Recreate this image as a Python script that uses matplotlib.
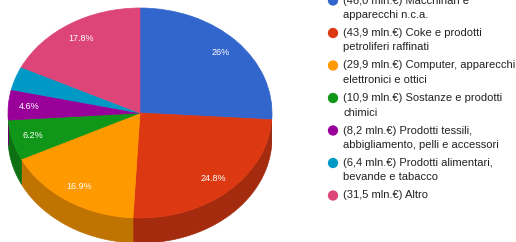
import numpy as np
import matplotlib.pyplot as plt
from matplotlib.patches import Polygon

plt.rcParams['font.family'] = ['Liberation Sans', 'DejaVu Sans']

# dati: export per settore (mln. €)
values = [46.0, 43.9, 29.9, 10.9, 8.2, 6.4, 31.5]
legend_labels = [
    "(46,0 mln.€) Macchinari e\napparecchi n.c.a.",
    "(43,9 mln.€) Coke e prodotti\npetroliferi raffinati",
    "(29,9 mln.€) Computer, apparecchi\nelettronici e ottici",
    "(10,9 mln.€) Sostanze e prodotti\nchimici",
    "(8,2 mln.€) Prodotti tessili,\nabbigliamento, pelli e accessori",
    "(6,4 mln.€) Prodotti alimentari,\nbevande e tabacco",
    "(31,5 mln.€) Altro",
]
colors = ['#3366cc', '#dc3912', '#ff9900', '#109618', '#990099', '#0099c6', '#dd4477']


def darker(c, f=0.75):
    c = c.lstrip('#')
    r, g, b = (int(c[i:i + 2], 16) / 255 for i in (0, 2, 4))
    return (r * f, g * f, b * f)


def fmt_pct(p):
    if p < 4:
        return ''
    s = f"{p:.1f}".rstrip('0').rstrip('.')
    return s + '%'


W, H = 516, 242
fig = plt.figure(figsize=(W / 100, H / 100), dpi=100)

ry_px, depth_px = 105, 25
depth = depth_px / ry_px
ax = fig.add_axes([8 / W, (H - 8 - 2 * ry_px - depth_px) / H, 264 / W, (2 * ry_px + depth_px) / H])

wedges, _, autotexts = ax.pie(
    values, colors=colors, startangle=90, counterclock=False,
    autopct=fmt_pct, pctdistance=0.84,
    wedgeprops=dict(linewidth=0.5, zorder=3),
    textprops=dict(color='white', fontsize=6.5),
)
for w, c in zip(wedges, colors):
    w.set_edgecolor(c)
for t in autotexts:
    t.set_zorder(5)

# pareti laterali (effetto 3D) solo nella metà frontale
frac = np.array(values) / sum(values)
cum = np.concatenate([[0], np.cumsum(frac)])
for i, c in enumerate(colors):
    start = 90 - 360 * cum[i]
    end = 90 - 360 * cum[i + 1]
    lo, hi = max(end, -180), min(start, 0)
    if lo >= hi:
        continue
    t = np.radians(np.linspace(lo, hi, 80))
    x, y = np.cos(t), np.sin(t)
    pts = np.column_stack([np.concatenate([x, x[::-1]]),
                           np.concatenate([y, y[::-1] - depth])])
    dc = darker(c)
    ax.add_patch(Polygon(pts, closed=True, fc=dc, ec=dc, lw=0.5, zorder=1))

ax.set_aspect('auto')
ax.set_xlim(-1, 1)
ax.set_ylim(-1 - depth, 1)
ax.axis('off')

# legenda
lg = fig.add_axes([0, 0, 1, 1])
lg.set_xlim(0, W)
lg.set_ylim(H, 0)
lg.axis('off')
y0, step, line_h = 0.5, 32.5, 14.5
for i, (lab, c) in enumerate(zip(legend_labels, colors)):
    y = y0 + step * i
    lg.scatter([333], [y], s=55, color=c, edgecolors='none')
    for j, line in enumerate(lab.split('\n')):
        lg.text(343, y + j * line_h, line, fontsize=8, color='#222222',
                ha='left', va='center')

fig.savefig('out.png', dpi=100)
